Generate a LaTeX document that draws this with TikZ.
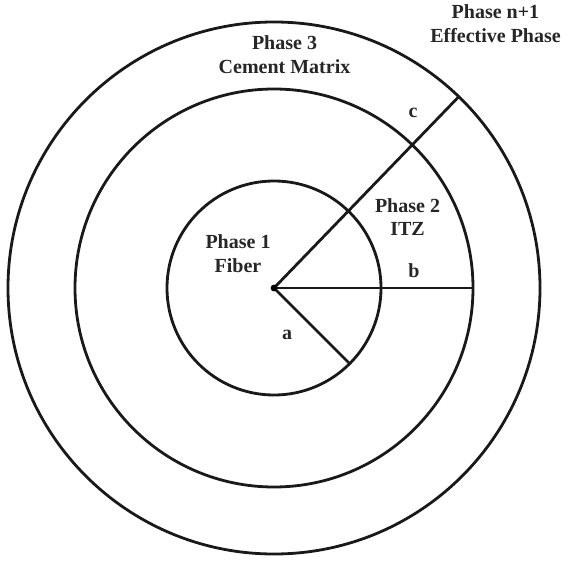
\documentclass[tikz,border=0pt]{standalone}
\usepackage{fontspec}
\setmainfont{Liberation Serif}
\usetikzlibrary{calc}
\begin{document}
\begin{tikzpicture}[x=1pt,y=-1pt,
  ring/.style={line width=2.8pt,draw=black!90},
  radius line/.style={line width=2.8pt,draw=black!90},
  lbl/.style={font=\fontsize{20}{24}\selectfont\bfseries,text=black!85,align=center,anchor=base,inner sep=0pt}]
\useasboundingbox (0,0) rectangle (564,561);
\coordinate (O) at (274,288);
\draw[ring] (O) circle[radius=107];
\draw[ring] (O) circle[radius=199];
\draw[ring] (O) circle[radius=266];
\coordinate (A) at ($(O)+(45:107)$);
\coordinate (B) at ($(O)+(0:199)$);
\coordinate (C) at ($(O)+(-46:266)$);
\draw[radius line] (O) -- (A);
\draw[radius line] (O) -- (B);
\draw[radius line] (O) -- (C);
\fill (O) circle[radius=3.4];
\node[lbl] (p3) at (284.5,73.8) {Phase 3\\Cement Matrix};
\node[lbl] (pn) at (495.5,42.5) {Phase n+1\\Effective Phase};
\node[lbl] (p1) at (238,272) {Phase 1\\Fiber};
\node[lbl] (p2) at (407.5,236) {Phase 2\\ITZ};
\node[lbl] (la) at (287,339) {a};
\node[lbl] (lb) at (414,277) {b};
\node[lbl] (lc) at (413,118) {c};
\end{tikzpicture}
\end{document}
